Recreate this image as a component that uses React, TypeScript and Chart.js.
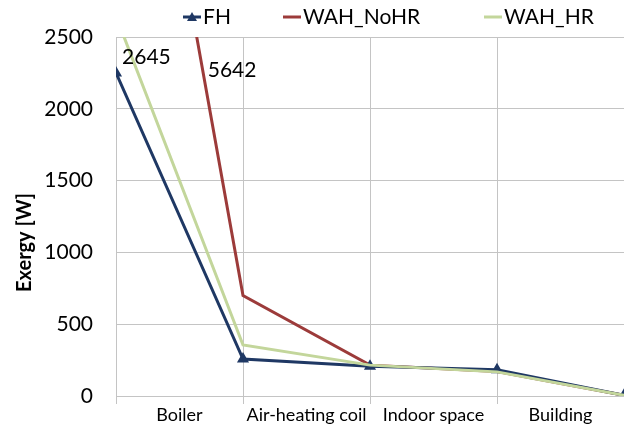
import React, { useEffect, useRef } from "react";
import { Chart, registerables } from "chart.js";

Chart.register(...registerables);

const categories = ["Boiler", "Air-heating coil", "Indoor space", "Building"];
const boundaries = [0, 1, 2, 3, 4];
const fhValues = [2250, 257, 208, 182, 5];
const wahNoHRValues = [5642, 700, 215, 170, 5];
const wahHRValues = [2645, 355, 215, 168, 5];
const seriesNames = ["FH", "WAH_NoHR", "WAH_HR"];
const seriesColors = ["#1F3864", "#9C3B3A", "#C3D69B"];
const yTicks = [0, 500, 1000, 1500, 2000, 2500];
const yTitle = "Exergy [W]";

const FONT = "Lato, 'Open Sans', sans-serif";

const valueLabelPlugin = {
  id: "valueLabels",
  afterDatasetsDraw(chart: any) {
    const { ctx, chartArea, scales } = chart;
    const xs = scales.x;
    const top = scales.y.max;
    ctx.save();
    ctx.fillStyle = "#000";
    ctx.font = `21px ${FONT}`;
    ctx.textBaseline = "middle";
    ctx.textAlign = "left";
    const draw = (vals: number[], dx: number, dy: number) => {
      const v0 = vals[0];
      const v1 = vals[1];
      const cross = boundaries[0] + (v0 - top) / (v0 - v1);
      const px = xs.getPixelForValue(cross);
      ctx.fillText(String(v0), px + dx, chartArea.top + dy);
    };
    draw(wahHRValues, -2, 20);
    draw(wahNoHRValues, 11, 33);
    ctx.restore();
  },
};

const legendStarts = [183, 283, 484];
const customLegendPlugin = {
  id: "customLegend",
  afterDraw(chart: any) {
    const { ctx, chartArea } = chart;
    ctx.save();
    ctx.font = `21px ${FONT}`;
    ctx.textBaseline = "middle";
    ctx.textAlign = "left";
    const y = 17;
    seriesNames.forEach((name, i) => {
      const x0 = legendStarts[i];
      ctx.strokeStyle = seriesColors[i];
      ctx.lineWidth = 3;
      ctx.beginPath();
      ctx.moveTo(x0, y);
      ctx.lineTo(x0 + 18, y);
      ctx.stroke();
      if (i === 0) {
        ctx.fillStyle = seriesColors[i];
        ctx.beginPath();
        ctx.moveTo(x0 + 9, y - 5);
        ctx.lineTo(x0 + 14, y + 4);
        ctx.lineTo(x0 + 4, y + 4);
        ctx.closePath();
        ctx.fill();
      }
      ctx.fillStyle = "#000";
      ctx.fillText(name, x0 + 20, y);
    });
    // y-axis title
    ctx.translate(25, (chartArea.top + chartArea.bottom) / 2 + 26);
    ctx.rotate(-Math.PI / 2);
    ctx.font = `bold 20px ${FONT}`;
    ctx.textAlign = "center";
    ctx.fillText(yTitle, 0, 0);
    ctx.restore();
  },
};

export default function App() {
  const ref = useRef<HTMLCanvasElement | null>(null);
  useEffect(() => {
    document.body.style.margin = "0";
    const allSeries = [fhValues, wahNoHRValues, wahHRValues];
    const chart = new Chart(ref.current!, {
      type: "line",
      data: {
        datasets: allSeries.map((vals, i) => ({
          label: seriesNames[i],
          data: vals.map((v, j) => ({ x: boundaries[j], y: v })),
          borderColor: seriesColors[i],
          backgroundColor: seriesColors[i],
          borderWidth: 3,
          pointStyle: i === 0 ? "triangle" : "circle",
          pointRadius: i === 0 ? 4 : 0,
          order: i === 2 ? 0 : i === 0 ? 1 : 2,
          tension: 0,
        })),
      },
      options: {
        animation: false,
        responsive: false,
        maintainAspectRatio: false,
        layout: { autoPadding: false, padding: { left: 0, right: 0, top: 37, bottom: 0 } },
        plugins: {
          tooltip: { enabled: false },
          legend: { display: false },
        },
        scales: {
          x: {
            type: "linear",
            min: 0,
            max: 4,
            afterBuildTicks: (axis: any) => {
              const t: any[] = [];
              boundaries.forEach((b, j) => {
                t.push({ value: b });
                if (j < categories.length) t.push({ value: b + 0.5 });
              });
              axis.ticks = t;
            },
            afterFit: (axis: any) => {
              axis.height = 30;
              axis.paddingLeft = 0;
              axis.paddingRight = 0;
            },
            ticks: {
              autoSkip: false,
              maxRotation: 0,
              padding: 0,
              color: "#000",
              font: { family: FONT, size: 18 },
              callback: (v: any) =>
                Number.isInteger(v) ? "" : categories[Math.floor(v)],
            },
            grid: {
              color: (c: any) =>
                c.tick && Number.isInteger(c.tick.value) ? "#C4C4C4" : "rgba(0,0,0,0)",
              tickLength: 8,
              lineWidth: 1,
            },
            border: { display: true, color: "#C4C4C4" },
          },
          y: {
            min: 0,
            max: 2500,
            afterBuildTicks: (axis: any) => {
              axis.ticks = yTicks.map((v) => ({ value: v }));
            },
            afterFit: (axis: any) => {
              axis.width = 116;
              axis.paddingTop = 12;
              axis.paddingBottom = 12;
            },
            ticks: {
              color: "#000",
              padding: 23,
              font: { family: FONT, size: 21 },
              callback: (v: any) => String(v),
            },
            grid: { color: "#C4C4C4", drawTicks: false },
            border: { display: true, color: "#C4C4C4" },
          },
        },
      },
      plugins: [valueLabelPlugin, customLegendPlugin],
    } as any);
    return () => chart.destroy();
  }, []);
  return (
    <div style={{ width: 624, height: 426, background: "#fff" }}>
      <canvas ref={ref} width={624} height={426} />
    </div>
  );
}
